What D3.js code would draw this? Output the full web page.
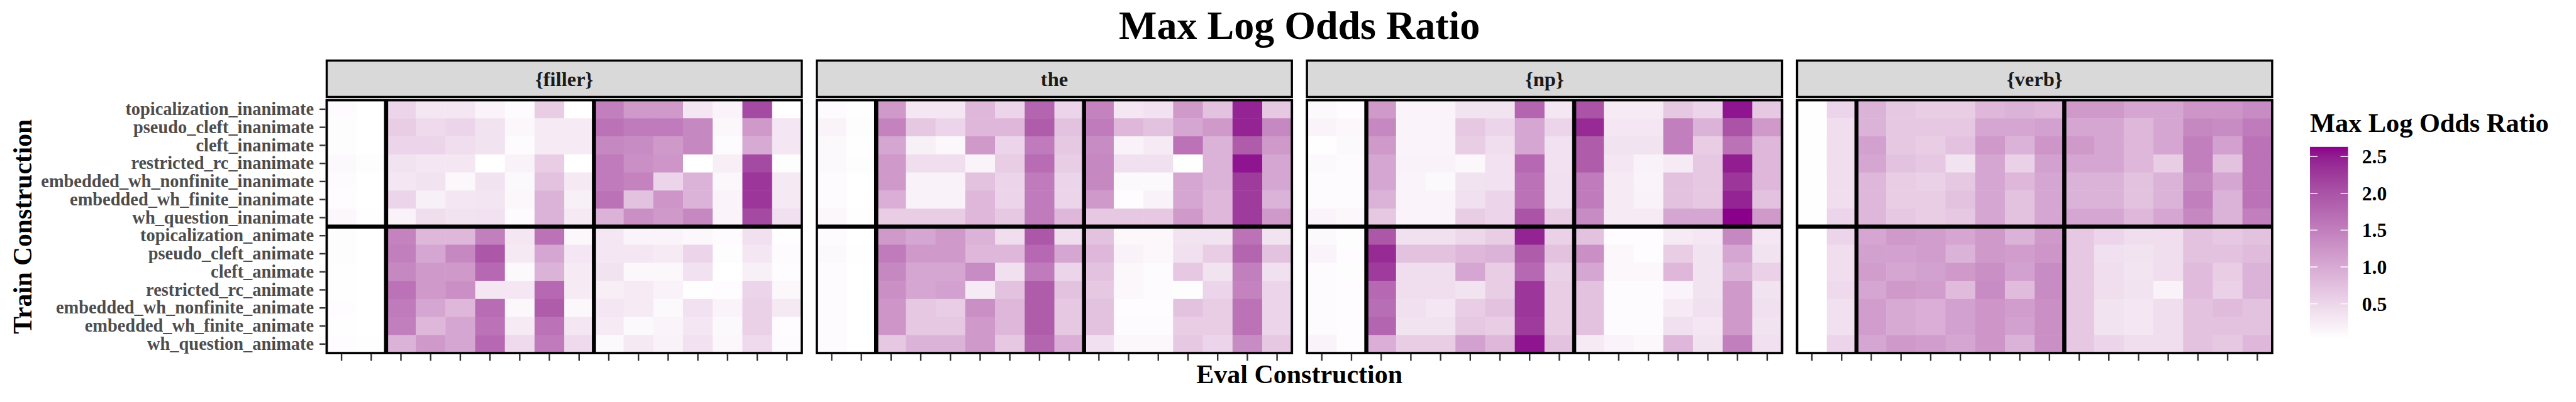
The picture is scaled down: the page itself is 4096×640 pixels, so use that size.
<!DOCTYPE html>
<html><head><meta charset="utf-8">
<script src="https://cdn.jsdelivr.net/npm/d3@7"></script>
<style>
html,body{margin:0;padding:0;background:#fff;}
svg{display:block;}
text{font-family:"Liberation Serif","Times New Roman",serif;font-weight:bold;}
</style>
</head><body>
<svg id="chart" width="4096" height="640"></svg>
<script>
// ---------------- data ----------------
const facets = ["{filler}", "the", "{np}", "{verb}"];
const trainConstructions = [
  "topicalization_inanimate","pseudo_cleft_inanimate","cleft_inanimate","restricted_rc_inanimate",
  "embedded_wh_nonfinite_inanimate","embedded_wh_finite_inanimate","wh_question_inanimate",
  "topicalization_animate","pseudo_cleft_animate","cleft_animate","restricted_rc_animate",
  "embedded_wh_nonfinite_animate","embedded_wh_finite_animate","wh_question_animate"
];
// eval constructions (tick labels are blank in the original)
const evalConstructions = [
  "control_1","control_2",
  "topicalization_animate","pseudo_cleft_animate","cleft_animate","restricted_rc_animate",
  "embedded_wh_nonfinite_animate","embedded_wh_finite_animate","wh_question_animate",
  "topicalization_inanimate","pseudo_cleft_inanimate","cleft_inanimate","restricted_rc_inanimate",
  "embedded_wh_nonfinite_inanimate","embedded_wh_finite_inanimate","wh_question_inanimate"
];
const evalTickLabels = evalConstructions.map(() => "");

const fillerValues = [
  [0.08,0.03,0.5,0.3,0.3,0.15,0.07,0.6,0.03,1.5,1.2,1.2,0.3,0.15,2.1,0.03],
  [0.05,0.03,0.6,0.45,0.5,0.35,0.12,0.25,0.25,1.65,1.55,1.55,1.4,0.12,1.2,0.3],
  [0.05,0.03,0.5,0.5,0.42,0.35,0.07,0.25,0.25,1.4,1.35,1.2,1.4,0.07,1.0,0.3],
  [0.1,0.05,0.35,0.3,0.3,0.03,0.18,0.6,0.03,1.55,1.3,1.25,0.03,0.22,2.1,0.05],
  [0.07,0.03,0.3,0.35,0.12,0.35,0.1,0.72,0.28,1.55,1.45,0.5,0.9,0.12,2.3,0.28],
  [0.06,0.03,0.5,0.2,0.3,0.32,0.12,0.9,0.2,1.65,0.72,1.25,0.9,0.15,2.3,0.28],
  [0.12,0.04,0.18,0.42,0.35,0.37,0.08,0.9,0.28,0.9,1.3,1.2,1.4,0.15,2.1,0.38],
  [0.05,0.03,1.45,0.85,0.85,1.5,0.3,1.65,0.12,0.3,0.15,0.15,0.12,0.07,0.38,0.04],
  [0.05,0.03,1.5,1.05,1.4,1.95,0.28,1.05,0.3,0.3,0.3,0.25,0.5,0.05,0.3,0.08],
  [0.04,0.03,1.4,1.2,1.2,1.75,0.1,0.9,0.25,0.35,0.12,0.12,0.37,0.03,0.2,0.06],
  [0.04,0.03,1.65,1.2,1.3,0.3,0.3,1.75,0.25,0.22,0.25,0.18,0.04,0.06,0.5,0.12],
  [0.06,0.03,1.55,1.05,0.85,1.72,0.12,1.9,0.12,0.3,0.25,0.1,0.37,0.15,0.55,0.28],
  [0.04,0.03,1.5,0.85,1.05,1.65,0.25,1.65,0.3,0.25,0.1,0.15,0.3,0.1,0.55,0.06],
  [0.06,0.04,0.9,1.2,1.05,1.75,0.45,1.55,0.45,0.1,0.28,0.18,0.37,0.12,0.45,0.08]
];
const theValues = [
  [0.08,0.04,1.2,0.3,0.3,0.85,0.5,1.8,0.5,1.45,0.3,0.37,1.2,0.72,2.45,0.65],
  [0.15,0.05,1.45,0.65,0.5,0.85,0.85,1.9,0.72,1.55,0.85,0.72,1.05,1.2,2.45,1.4],
  [0.1,0.04,1.05,0.2,0.12,1.2,0.5,1.55,0.65,1.35,0.18,0.25,1.65,0.9,1.9,1.2],
  [0.1,0.05,1.2,0.42,0.42,0.15,0.6,1.72,0.6,1.4,0.38,0.38,0.04,0.9,2.55,1.05],
  [0.08,0.03,1.2,0.18,0.18,0.72,0.5,1.55,0.5,1.4,0.1,0.1,1.05,0.9,2.25,1.05],
  [0.08,0.03,0.95,0.18,0.18,0.85,0.5,1.55,0.5,1.2,0.06,0.18,1.05,0.85,2.25,0.9],
  [0.12,0.04,0.6,0.6,0.6,0.85,0.65,1.55,0.85,0.65,0.65,0.65,1.2,0.85,2.25,1.2],
  [0.07,0.03,1.2,1.05,1.2,0.9,0.42,1.95,0.42,0.72,0.12,0.12,0.35,0.35,1.65,0.35],
  [0.1,0.04,1.55,1.2,1.2,0.85,0.85,1.75,1.05,0.85,0.18,0.12,0.38,0.6,1.8,0.72],
  [0.07,0.03,1.4,1.05,1.05,1.35,0.38,1.55,0.5,0.72,0.12,0.08,0.65,0.35,1.5,0.38],
  [0.07,0.03,1.3,1.05,1.1,0.25,0.72,1.9,0.72,0.65,0.12,0.08,0.05,0.5,1.45,0.5],
  [0.07,0.03,1.25,0.65,0.6,1.3,0.85,1.9,0.65,0.72,0.06,0.06,0.72,0.6,1.65,0.5],
  [0.07,0.03,1.25,0.65,0.65,1.2,0.85,1.9,0.65,0.72,0.08,0.08,0.6,0.6,1.65,0.5],
  [0.08,0.03,0.65,0.9,0.9,1.2,0.65,1.8,0.95,0.38,0.12,0.12,0.65,0.5,1.35,0.65]
];
const npValues = [
  [0.1,0.06,1.2,0.15,0.15,0.35,0.35,1.8,0.3,2.0,0.25,0.25,0.65,0.5,2.55,0.65],
  [0.15,0.12,1.4,0.15,0.15,0.65,0.5,1.05,0.5,2.4,0.3,0.3,1.5,0.9,2.0,1.2],
  [0.04,0.1,1.2,0.17,0.17,0.6,0.42,1.05,0.37,1.9,0.35,0.35,1.5,0.6,1.65,0.85],
  [0.1,0.08,1.05,0.18,0.18,0.12,0.37,1.75,0.37,1.9,0.3,0.18,0.25,0.65,2.5,0.85],
  [0.08,0.07,1.05,0.15,0.1,0.35,0.37,1.65,0.38,1.55,0.25,0.15,0.72,0.65,2.3,0.85],
  [0.08,0.07,0.9,0.15,0.15,0.38,0.5,1.65,0.38,1.55,0.25,0.18,0.72,0.65,2.45,0.72],
  [0.15,0.12,0.65,0.15,0.17,0.6,0.5,2.0,0.6,1.35,0.25,0.25,1.05,1.05,2.63,1.2],
  [0.1,0.05,1.95,0.38,0.38,0.48,0.6,2.45,0.55,0.72,0.06,0.06,0.25,0.3,1.4,0.3],
  [0.15,0.06,2.4,0.72,0.72,0.85,0.9,1.9,0.72,1.3,0.12,0.06,0.6,0.35,1.05,0.35],
  [0.08,0.05,2.25,0.42,0.42,1.05,0.6,1.75,0.55,1.05,0.12,0.12,0.85,0.35,0.9,0.55],
  [0.07,0.06,1.75,0.42,0.42,0.35,0.6,2.3,0.6,0.72,0.08,0.08,0.17,0.35,1.2,0.35],
  [0.07,0.06,1.7,0.38,0.3,0.6,0.72,2.3,0.6,0.72,0.08,0.08,0.25,0.38,1.2,0.38],
  [0.07,0.06,1.8,0.35,0.35,0.65,0.6,2.25,0.6,0.72,0.08,0.08,0.38,0.3,1.2,0.35],
  [0.15,0.06,0.95,0.6,0.6,1.1,0.85,2.55,0.72,0.25,0.17,0.12,0.85,0.35,1.5,0.38]
];
const verbValues = [
  [0.04,0.5,0.9,0.65,0.6,0.6,0.85,0.9,0.85,1.2,1.2,1.05,1.05,1.25,1.25,1.35],
  [0.04,0.4,0.9,0.65,0.65,0.65,1.05,1.05,1.1,1.05,1.05,0.85,1.05,1.4,1.35,1.55],
  [0.04,0.42,1.1,0.65,0.6,0.72,1.2,0.9,1.25,1.2,1.05,0.85,1.05,1.5,1.1,1.65],
  [0.04,0.42,1.05,0.72,0.65,0.35,1.05,0.55,1.1,1.05,1.05,0.85,0.6,1.5,0.72,1.65],
  [0.04,0.4,0.85,0.6,0.55,0.65,1.05,0.85,1.05,0.9,0.9,0.72,0.9,1.4,1.05,1.65],
  [0.04,0.4,0.85,0.6,0.6,0.72,1.05,0.72,1.05,0.9,0.9,0.72,0.9,1.5,0.9,1.65],
  [0.04,0.5,0.85,0.65,0.6,0.65,1.05,0.72,1.05,1.05,1.05,0.85,1.05,1.4,0.9,1.5],
  [0.03,0.5,1.05,1.2,1.15,1.05,1.2,0.9,1.2,0.65,0.5,0.4,0.4,0.72,0.65,0.72],
  [0.03,0.4,1.1,1.1,1.15,0.9,1.2,1.15,1.25,0.65,0.38,0.35,0.4,0.72,0.72,0.8],
  [0.03,0.42,1.15,1.05,1.1,1.2,1.3,1.1,1.35,0.65,0.42,0.33,0.4,0.8,0.6,0.9],
  [0.03,0.45,1.05,1.2,1.15,0.8,1.35,0.8,1.35,0.65,0.42,0.35,0.18,0.8,0.55,0.9],
  [0.03,0.38,1.15,1.0,0.95,1.1,1.25,1.15,1.3,0.65,0.35,0.3,0.4,0.72,0.8,0.72],
  [0.03,0.38,1.15,1.0,0.95,1.1,1.25,1.1,1.3,0.65,0.35,0.3,0.4,0.72,0.72,0.72],
  [0.03,0.5,1.05,1.2,1.15,1.05,1.25,0.9,1.3,0.65,0.5,0.42,0.42,0.72,0.65,0.85]
];
const legendTicks = [0.5, 1.0, 1.5, 2.0, 2.5];
const titleText = "Max Log Odds Ratio";
const xTitle = "Eval Construction";
const yTitle = "Train Construction";
const legendTitle = "Max Log Odds Ratio";

// ---------------- build ----------------
const facetValues = {"{filler}": fillerValues, "the": theValues, "{np}": npValues, "{verb}": verbValues};
const cells = [];
facets.forEach(f => facetValues[f].forEach((row, i) => row.forEach((v, j) => {
  cells.push({facet: f, train: trainConstructions[i], eval: evalConstructions[j], value: v});
})));

const S = 0.853;
const svg = d3.select("#chart");
const panelTop = 187 * S, panelBottom = 659 * S;
const stripTop = 113 * S, stripBottom = 181 * S;

const fx = d3.scaleBand().domain(facets).range([609 * S, 4235.5 * S]).paddingInner(0.0307);
const x = d3.scaleBand().domain(evalConstructions).range([0, fx.bandwidth()]);
const y = d3.scaleBand().domain(trainConstructions).range([panelTop, panelBottom]);
const extent = d3.extent(cells, d => d.value);
const color = d3.scaleLinear().domain(extent).range(["#FFFFFF", "#8B008B"]).interpolate(d3.interpolateLab);

// title
svg.append("text").attr("x", (fx.range()[0] + fx.range()[1]) / 2).attr("y", 62)
  .attr("text-anchor", "middle").attr("font-size", 64).attr("fill", "#000").text(titleText);

facets.forEach((f, fi) => {
  const g = svg.append("g").attr("transform", `translate(${fx(f)},0)`);
  // strip
  g.append("rect").attr("x", 0).attr("y", stripTop).attr("width", fx.bandwidth()).attr("height", stripBottom - stripTop)
    .attr("fill", "#D9D9D9").attr("stroke", "#000").attr("stroke-width", 3.4);
  g.append("text").attr("x", fx.bandwidth() / 2).attr("y", (stripTop + stripBottom) / 2)
    .attr("dy", "0.35em").attr("text-anchor", "middle").attr("font-size", 32.5).attr("fill", "#1A1A1A").text(f);
  // tiles
  g.selectAll("rect.cell").data(cells.filter(c => c.facet === f)).join("rect")
    .attr("class", "cell")
    .attr("x", d => x(d.eval)).attr("y", d => y(d.train))
    .attr("width", x.bandwidth() + 0.5).attr("height", y.bandwidth() + 0.5)
    .attr("fill", d => color(d.value));
  // separators
  const xs = [x(evalConstructions[2]), x(evalConstructions[9])];
  xs.forEach(xx => g.append("line").attr("x1", xx).attr("x2", xx).attr("y1", panelTop).attr("y2", panelBottom)
    .attr("stroke", "#000").attr("stroke-width", 6.5));
  const yy = y(trainConstructions[7]);
  g.append("line").attr("x1", 0).attr("x2", fx.bandwidth()).attr("y1", yy).attr("y2", yy)
    .attr("stroke", "#000").attr("stroke-width", 6.5);
  // border
  g.append("rect").attr("x", 0).attr("y", panelTop).attr("width", fx.bandwidth()).attr("height", panelBottom - panelTop)
    .attr("fill", "none").attr("stroke", "#000").attr("stroke-width", 3.8);
  // x axis ticks (blank labels)
  const xAxis = d3.axisBottom(x).tickSize(10.4).tickPadding(3).tickFormat((d, i) => evalTickLabels[i]);
  const ax = g.append("g").attr("transform", `translate(0,${panelBottom + 1.9})`).call(xAxis);
  ax.select(".domain").remove();
  ax.selectAll(".tick line").attr("stroke", "#333333").attr("stroke-width", 2.4);
  ax.selectAll(".tick text").remove();
});

// y axis
const yAxis = d3.axisLeft(y).tickSize(9.5).tickPadding(9);
const ay = svg.append("g").attr("transform", `translate(${fx(facets[0]) - 1.9},0)`).call(yAxis);
ay.select(".domain").remove();
ay.selectAll(".tick line").attr("stroke", "#333333").attr("stroke-width", 2.4);
ay.selectAll(".tick text").attr("font-size", 28.4).attr("fill", "#4D4D4D")
  .attr("font-family", "'Liberation Serif','Times New Roman',serif").attr("font-weight", "bold");

// axis titles
svg.append("text").attr("x", (fx.range()[0] + fx.range()[1]) / 2).attr("y", 610)
  .attr("text-anchor", "middle").attr("font-size", 42).attr("fill", "#000").text(xTitle);
svg.append("text").attr("transform", `translate(50,${(panelTop + panelBottom) / 2}) rotate(-90)`)
  .attr("text-anchor", "middle").attr("font-size", 41.5).attr("fill", "#000").text(yTitle);

// legend
const legX = 4306 * S, barW = 71 * S;
const legY = d3.scaleLinear().domain([0.5, 2.5]).range([567 * S, 292 * S]);
svg.append("text").attr("x", legX).attr("y", 210).attr("font-size", 42.3).attr("fill", "#000").text(legendTitle);
const defs = svg.append("defs");
const grad = defs.append("linearGradient").attr("id", "lg").attr("x1", 0).attr("y1", 1).attr("x2", 0).attr("y2", 0);
d3.range(0, 1.0001, 0.05).forEach(t => {
  grad.append("stop").attr("offset", t).attr("stop-color", color(extent[0] + t * (extent[1] - extent[0])));
});
const barTop = legY(extent[1]), barBottom = legY(extent[0]);
svg.append("rect").attr("x", legX).attr("y", barTop).attr("width", barW).attr("height", barBottom - barTop)
  .attr("fill", "url(#lg)");
legendTicks.forEach(t => {
  const ty = legY(t);
  svg.append("line").attr("x1", legX).attr("x2", legX + 12).attr("y1", ty).attr("y2", ty).attr("stroke", "#fff").attr("stroke-width", 1.5);
  svg.append("line").attr("x1", legX + barW - 12).attr("x2", legX + barW).attr("y1", ty).attr("y2", ty).attr("stroke", "#fff").attr("stroke-width", 1.5);
  svg.append("text").attr("x", 4403 * S).attr("y", ty).attr("dy", "0.35em").attr("font-size", 31.6).attr("fill", "#000").text(d3.format(".1f")(t));
});
</script>
</body></html>
